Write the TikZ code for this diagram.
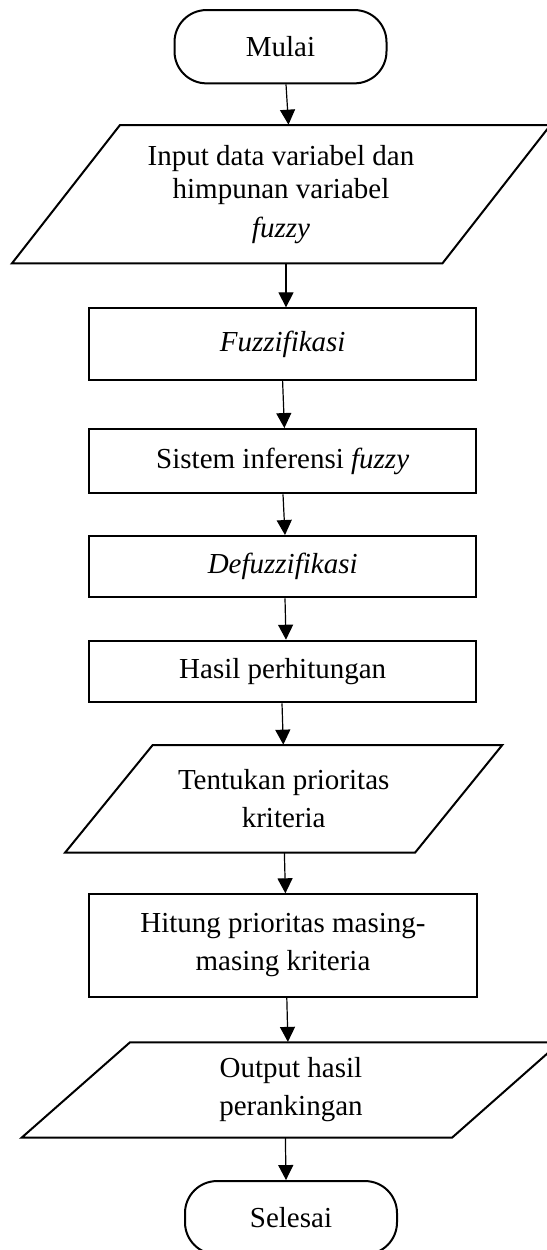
\documentclass[tikz,border=0pt]{standalone}
\usepackage{fontspec}
\setmainfont{Liberation Serif}
\usetikzlibrary{arrows.meta}
\begin{document}
\begin{tikzpicture}[x=0.5pt,y=-0.5pt,
  every node/.style={font=\fontsize{14.5}{19}\selectfont, align=center, inner sep=0pt},
  term/.style={draw, line width=1pt, rounded corners=16pt, minimum width=106pt, minimum height=36.65pt},
  procbox/.style={draw, line width=1pt, minimum width=193.4pt},
  io/.style={minimum width=10pt},
  shapeline/.style={line width=1pt, line join=miter},
  arr/.style={line width=0.6pt, -{Triangle[length=7.5pt,width=7.5pt]}}]
\useasboundingbox (0,0) rectangle (547,1250);

\node[term] (mulai) at (280.5,46.7) {Mulai};

\node[io, minimum height=69.15pt, font=\fontsize{14.5}{16.5}\selectfont] (in) at (281,194.2)
  {Input data variabel dan\\himpunan variabel\\[3pt]\textit{fuzzy}};
\draw[shapeline] (120,125) -- (550.5,125) -- (442.5,263.3) -- (12,263.3) -- cycle;

\node[procbox, minimum height=35.85pt] (fuzz) at (282.7,344.2) {\textit{Fuzzifikasi}};
\node[procbox, minimum height=32.15pt] (sis) at (282.7,461.2) {Sistem inferensi \textit{fuzzy}};
\node[procbox, minimum height=30.65pt] (defuzz) at (282.7,566.7) {\textit{Defuzzifikasi}};
\node[procbox, minimum height=30.8pt] (hasil) at (282.7,671.5) {Hasil perhitungan};

\node[io, minimum height=53.85pt] (tentu) at (283.7,798.9) {Tentukan prioritas\\kriteria};
\draw[shapeline] (152.7,745) -- (502.3,745) -- (415,852.7) -- (65,852.7) -- cycle;

\node[procbox, minimum width=193.7pt, minimum height=51.2pt] (hitung) at (283,945.5)
  {Hitung prioritas masing-\\masing kriteria};

\node[io, minimum height=47.7pt] (out) at (291,1090) {Output hasil\\perankingan};
\draw[shapeline] (130,1042.3) -- (560,1042.3) -- (452,1137.7) -- (21.6,1137.7) -- cycle;

\node[term] (sel) at (291,1217.7) {Selesai};

\draw[arr] (mulai.south -| 286,0) -- (in.north -| 288.5,0);
\draw[arr] (in.south -| 286,0) -- (fuzz.north -| 286,0);
\draw[arr] (fuzz.south -| 282.6,0) -- (sis.north -| 284.4,0);
\draw[arr] (sis.south -| 283,0) -- (defuzz.north -| 285,0);
\draw[arr] (defuzz.south -| 285,0) -- (hasil.north -| 286,0);
\draw[arr] (hasil.south -| 282,0) -- (tentu.north -| 283.3,0);
\draw[arr] (tentu.south -| 284.4,0) -- (hitung.north -| 285.4,0);
\draw[arr] (hitung.south -| 286.8,0) -- (out.north -| 287.9,0);
\draw[arr] (out.south -| 285.4,0) -- (sel.north -| 286,0);
\end{tikzpicture}
\end{document}
